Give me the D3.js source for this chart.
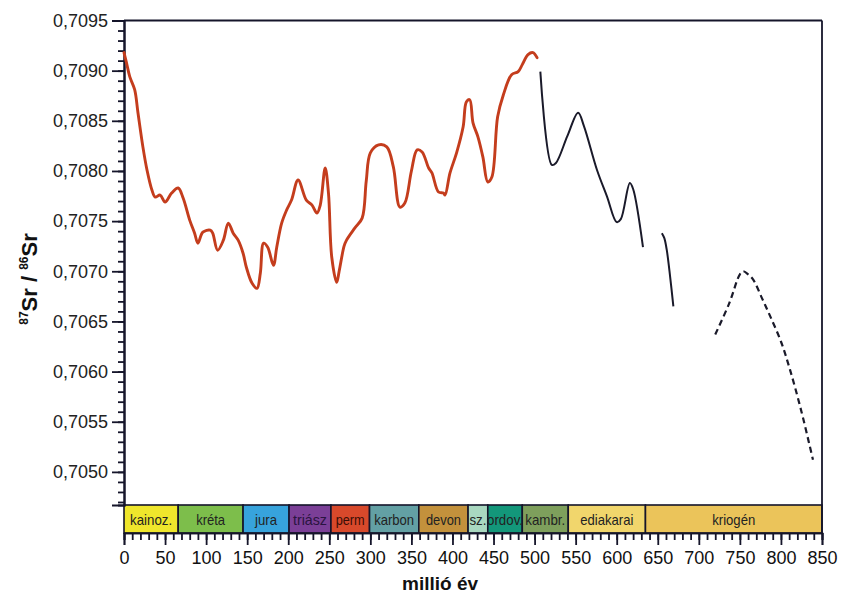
<!DOCTYPE html>
<html><head><meta charset="utf-8">
<script src="https://cdn.jsdelivr.net/npm/d3@7"></script>
<style>
html,body{margin:0;padding:0;background:#fff;}
svg{display:block;font-family:"Liberation Sans",Arial,Helvetica,sans-serif;}
</style></head>
<body><svg id="chart" width="845" height="595"></svg>
<script>
// ---- data ----
const orangeAge = [0,3,7,13,17,23,28,34,38,44,50,58,66,72,80,86,90,96,105,108,114,121,127,133,139,145,149,156,162,166,170,175,182,186,192,198,204,212,222,229,235,239,245,249,253,259,262,268,271,281,290,295,300,310,320,328,336,342,350,357,363,371,375,383,389,391,397,405,413,417,421,425,431,437,443,448,455,462,472,480,485,492,498,503];
const orangeSr = [0.70918,0.70908,0.70894,0.70881,0.70858,0.70824,0.70801,0.70781,0.70774,0.70776,0.70769,0.70778,0.70783,0.70773,0.70751,0.70738,0.70728,0.70739,0.70741,0.70738,0.70721,0.70731,0.70748,0.70738,0.70731,0.70718,0.70704,0.70688,0.70683,0.70698,0.70728,0.70724,0.70706,0.70724,0.70748,0.70761,0.70771,0.70791,0.70771,0.70766,0.70758,0.70766,0.70803,0.70778,0.70714,0.70689,0.70700,0.70725,0.70731,0.70743,0.70753,0.70790,0.70818,0.70826,0.70824,0.70804,0.70764,0.70768,0.70800,0.70821,0.70819,0.70803,0.70798,0.70779,0.70778,0.70776,0.70798,0.70818,0.70844,0.70869,0.70871,0.70848,0.70834,0.70814,0.70789,0.70794,0.70854,0.70876,0.70896,0.70899,0.70906,0.70916,0.70918,0.70913];

const blackAge1 = [507,521,526,540,553,560,576,588,600,605,616,620,632];
const blackSr1  = [0.70899,0.70806,0.70808,0.70835,0.70858,0.70845,0.70801,0.70775,0.70749,0.70752,0.70788,0.70782,0.70724];

const blackAge2 = [655,658,661,665,669];
const blackSr2  = [0.70738,0.70733,0.70721,0.70695,0.70665];

const dashedAge = [720,737,750,754,760,766,777,787,800,811,825,839];
const dashedSr  = [0.70637,0.70668,0.70697,0.70700,0.70697,0.70692,0.70673,0.70655,0.70630,0.70602,0.70560,0.70512];

const periodNames  = ["kainoz.","kréta","jura","triász","perm","karbon","devon","sz.","ordov.","kambr.","ediakarai","kriogén"];
const periodStarts = [0,66,145,201,252,299,359,419,443,485,541,635];
const periodEnds   = [66,145,201,252,299,359,419,443,485,541,635,850];
const periodColors = ["#efe62c","#7dbe4b","#37a3dc","#7b3f97","#d8492b","#63a0a4","#c3913c","#a9d8c0","#13977a","#7e9f5c","#f1d66c","#ebc45a"];
const periodTextColors = ["#222","#222","#222","#2a1440","#3a0e06","#222","#222","#222","#222","#222","#222","#222"];

const yMajorTicks = [0.7050,0.7055,0.7060,0.7065,0.7070,0.7075,0.7080,0.7085,0.7090,0.7095];
const xMajorTicks = [0,50,100,150,200,250,300,350,400,450,500,550,600,650,700,750,800,850];

// ---- layout ----
const svg = d3.select("#chart");
const barTop = 505, barBot = 533;
const x = d3.scaleLinear().domain([0,850]).range([124,822]);
const y = d3.scaleLinear().domain([0.70467,0.7095]).range([barTop,20.5]);
const axisColor = "#15152a";

// period bar
const pg = svg.append("g");
periodNames.forEach((n,i)=>{
  pg.append("rect")
    .attr("x", x(periodStarts[i])).attr("y", barTop)
    .attr("width", x(periodEnds[i]) - x(periodStarts[i])).attr("height", barBot-barTop)
    .attr("fill", periodColors[i]).attr("stroke", axisColor).attr("stroke-width", 1.6);
});
const textLens = {"kainoz.":42,"kréta":29,"jura":22,"triász":34,"perm":29,"karbon":40,"devon":35,"sz.":17,"ordov.":36,"kambr.":40,"ediakarai":53,"kriogén":43};
periodNames.forEach((n,i)=>{
  const cx = (x(periodStarts[i]) + x(periodEnds[i]))/2;
  pg.append("text")
    .attr("x", cx).attr("y", 524.5)
    .attr("text-anchor","middle")
    .attr("font-size", 15)
    .attr("fill", periodTextColors[i])
    .attr("textLength", textLens[n]).attr("lengthAdjust","spacingAndGlyphs")
    .text(n);
});

// frame (top and right)
svg.append("line").attr("x1", x(0)).attr("x2", x(850)).attr("y1", 20.5).attr("y2", 20.5)
  .attr("stroke", axisColor).attr("stroke-width", 1.8);
svg.append("line").attr("x1", x(850)).attr("x2", x(850)).attr("y1", 20.5).attr("y2", barBot)
  .attr("stroke", axisColor).attr("stroke-width", 1.8);

// y axis
const yMinor = d3.range(47, 96).map(v => +(0.7 + v/10000).toFixed(4));
const fmt = v => d3.format(".4f")(v).replace(".", ",");
const gyMinor = svg.append("g").attr("transform", `translate(${x(0)},0)`)
  .call(d3.axisLeft(y).tickValues(yMinor).tickSize(6).tickFormat(""));
const gy = svg.append("g").attr("transform", `translate(${x(0)},0)`)
  .call(d3.axisLeft(y).tickValues(yMajorTicks).tickSize(12).tickPadding(4).tickFormat(fmt));
[gy, gyMinor].forEach(g=>{
  g.select(".domain").attr("stroke", axisColor).attr("stroke-width", 2);
  g.selectAll(".tick line").attr("stroke", axisColor).attr("stroke-width", 1.8);
});
gy.selectAll(".tick text").attr("font-size", 18).attr("fill", "#222")
  .attr("font-family", "'Liberation Sans',Arial,sans-serif");

// x axis (below the period bar)
const xMinor = d3.range(0, 851, 10);
const gxMinor = svg.append("g").attr("transform", `translate(0,${barBot})`)
  .call(d3.axisBottom(x).tickValues(xMinor).tickSize(7).tickFormat(""));
const gx = svg.append("g").attr("transform", `translate(0,${barBot})`)
  .call(d3.axisBottom(x).tickValues(xMajorTicks).tickSize(12).tickPadding(6).tickFormat(d3.format("d")));
[gx, gxMinor].forEach(g=>{
  g.select(".domain").attr("stroke", axisColor).attr("stroke-width", 1.6);
  g.selectAll(".tick line").attr("stroke", axisColor).attr("stroke-width", 1.8);
});
gx.selectAll(".tick text").attr("font-size", 18).attr("fill", "#111")
  .attr("font-family", "'Liberation Sans',Arial,sans-serif");

// lines
const mk = (ages, vals) => ages.map((a,i)=>[a, vals[i]]);
const lineSmooth = d3.line().x(d=>x(d[0])).y(d=>y(d[1])).curve(d3.curveCatmullRom.alpha(0.5));

svg.append("path").attr("d", lineSmooth(mk(orangeAge, orangeSr)))
  .attr("fill","none").attr("stroke","#c43d1d").attr("stroke-width",2.9)
  .attr("stroke-linejoin","round").attr("stroke-linecap","round");
svg.append("path").attr("d", lineSmooth(mk(blackAge1, blackSr1)))
  .attr("fill","none").attr("stroke","#1a1a2a").attr("stroke-width",2);
svg.append("path").attr("d", lineSmooth(mk(blackAge2, blackSr2)))
  .attr("fill","none").attr("stroke","#1a1a2a").attr("stroke-width",2);
svg.append("path").attr("d", lineSmooth(mk(dashedAge, dashedSr)))
  .attr("fill","none").attr("stroke","#1a1a2a").attr("stroke-width",2.2)
  .attr("stroke-dasharray","6,4");

// axis titles
const yt = svg.append("text")
  .attr("transform", "translate(37,279) rotate(-90)")
  .attr("text-anchor","middle").attr("font-weight","bold").attr("font-size", 22).attr("fill","#111");
yt.append("tspan").attr("font-size", 12).attr("dy", -9).text("87");
yt.append("tspan").attr("dy", 9).text("Sr / ");
yt.append("tspan").attr("font-size", 12).attr("dy", -9).text("86");
yt.append("tspan").attr("dy", 9).text("Sr");

svg.append("text").attr("x", 440).attr("y", 590).attr("text-anchor","middle")
  .attr("font-weight","bold").attr("font-size", 19).attr("fill","#111").text("millió év");
</script>
</body></html>
